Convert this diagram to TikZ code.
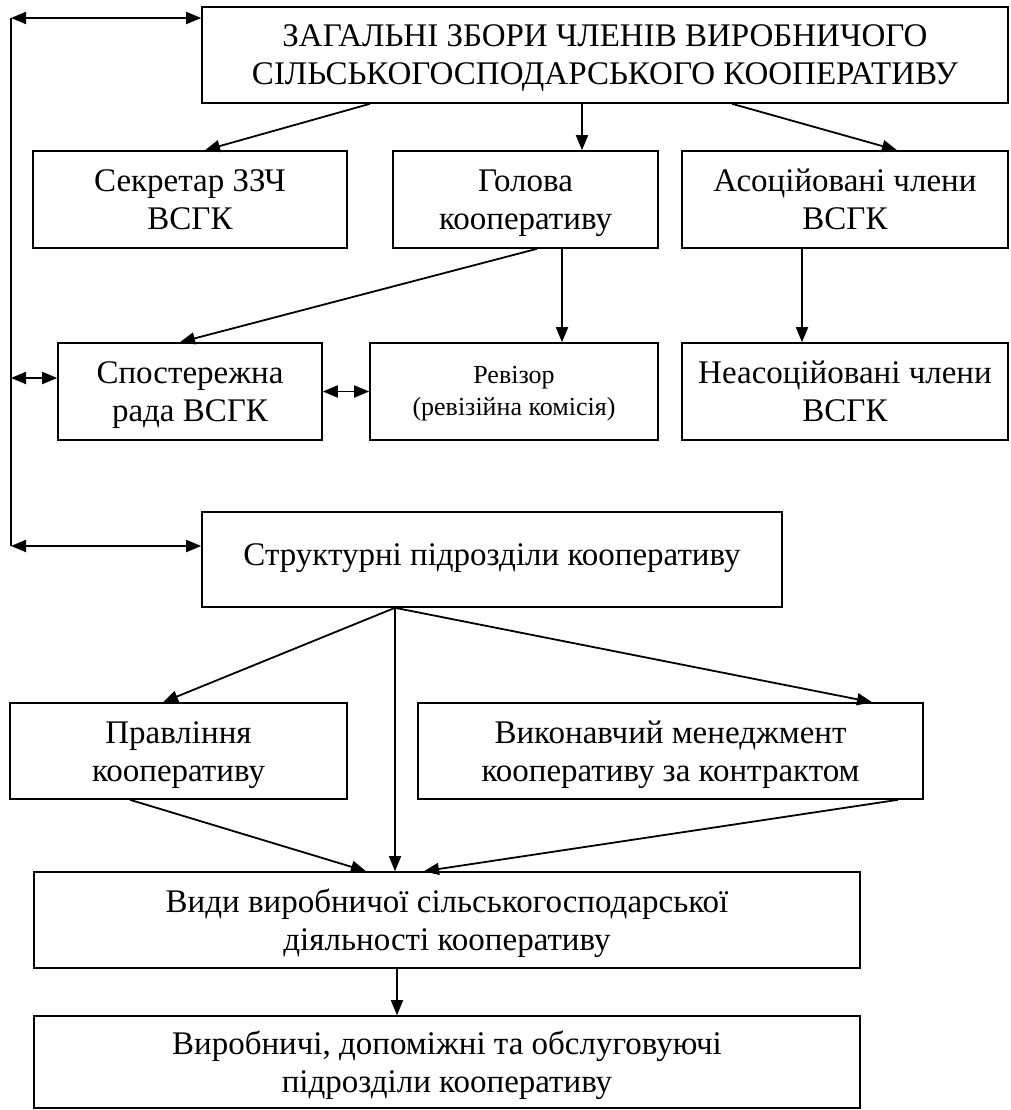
\documentclass[tikz,border=0pt]{standalone}
\usepackage{fontspec}
\setmainfont{Liberation Serif}
\usetikzlibrary{arrows.meta}
\newcommand\bstrut{\rule[-7.5pt]{0pt}{37pt}}
\newcommand\rstrut{\rule[-7pt]{0pt}{29pt}}
\newcommand\ostrut{\rule[-12pt]{0pt}{35pt}}
\tikzset{
  box/.style={draw, line width=1.6pt, inner sep=0pt, align=center,
    font=\fontsize{33}{38}\selectfont},
  conn/.style={line width=1.8pt, -{Triangle[length=15pt,width=12pt]}},
  dconn/.style={line width=1.8pt, {Triangle[length=15pt,width=12pt]}-{Triangle[length=15pt,width=12pt]}},
  plain/.style={line width=1.8pt}
}
\begin{document}
\begin{tikzpicture}[x=1pt,y=-1pt]
\useasboundingbox (0,0) rectangle (1010,1110);
% boxes
\node[box, minimum width=806pt, minimum height=96pt] (top) at (605,55)
  {\bstrut ЗАГАЛЬНІ ЗБОРИ ЧЛЕНІВ ВИРОБНИЧОГО\\\bstrut СІЛЬСЬКОГОСПОДАРСЬКОГО КООПЕРАТИВУ};
\node[box, minimum width=314pt, minimum height=97pt] (sek) at (190,199.5)
  {\bstrut Секретар ЗЗЧ\\\bstrut ВСГК};
\node[box, minimum width=265pt, minimum height=97pt] (hol) at (525.5,199.5)
  {\bstrut Голова\\\bstrut кооперативу};
\node[box, minimum width=326pt, minimum height=97pt] (aso) at (845,199.5)
  {\bstrut Асоційовані члени\\\bstrut ВСГК};
\node[box, minimum width=264pt, minimum height=97pt] (spo) at (190,391.5)
  {\bstrut Спостережна\\\bstrut рада ВСГК};
\node[box, minimum width=288pt, minimum height=97pt, font=\fontsize{26}{32}\selectfont] (rev) at (514,391.5)
  {\rstrut Ревізор\\\rstrut (ревізійна комісія)};
\node[box, minimum width=326pt, minimum height=97pt] (nea) at (845,391.5)
  {\bstrut Неасоційовані члени\\\bstrut ВСГК};
\node[box, minimum width=580pt, minimum height=95pt] (str) at (492,559.5)
  {\ostrut Структурні підрозділи кооперативу};
\node[box, minimum width=337pt, minimum height=96pt] (pra) at (178.5,751)
  {\bstrut Правління\\\bstrut кооперативу};
\node[box, minimum width=505pt, minimum height=96pt] (vyk) at (670.5,751)
  {\bstrut Виконавчий менеджмент\\\bstrut кооперативу за контрактом};
\node[box, minimum width=826pt, minimum height=96pt] (vyd) at (447,920)
  {\bstrut Види виробничої сільськогосподарської\\\bstrut діяльності кооперативу};
\node[box, minimum width=826pt, minimum height=92pt] (vyr) at (447,1062)
  {\bstrut Виробничі, допоміжні та обслуговуючі\\\bstrut підрозділи кооперативу};
% left bus
\coordinate (b1) at (11,18);
\coordinate (b2) at (11,378);
\coordinate (b3) at (11,546);
\draw[plain] (b1) -- (b3);
\draw[dconn] (b1) -- (b1 -| top.west);
\draw[dconn] (b2) -- (b2 -| spo.west);
\draw[dconn] (b3) -- (b3 -| str.west);
% connectors
\draw[conn] ([xshift=-235pt]top.south) -- ([xshift=15pt]sek.north);
\draw[conn] ([xshift=-23pt]top.south) -- ([xshift=-23pt]top.south |- hol.north);
\draw[conn] ([xshift=127pt]top.south) -- ([xshift=52pt]aso.north);
\draw[conn] ([xshift=-43pt]aso.south) -- ([xshift=-43pt]nea.north);
\draw[conn] ([xshift=11.5pt]hol.south) -- ([xshift=-10pt]spo.north);
\draw[conn] ([xshift=36.5pt]hol.south) -- ([xshift=36.5pt]hol.south |- rev.north);
\draw[dconn] (spo.east) -- (rev.west);
\draw[conn] ([xshift=-97pt]str.south) -- ([xshift=-15.5pt]pra.north);
\draw[conn] ([xshift=-97pt]str.south) -- ([xshift=-97pt]str.south |- vyd.north);
\draw[conn] ([xshift=-97pt]str.south) -- ([xshift=201.5pt]vyk.north);
\draw[conn] ([xshift=-48.5pt]pra.south) -- ([xshift=-81pt]vyd.north);
\draw[conn] ([xshift=227.5pt]vyk.south) -- ([xshift=-23pt]vyd.north);
\draw[conn] ([xshift=-50pt]vyd.south) -- ([xshift=-50pt]vyr.north);
\end{tikzpicture}
\end{document}
